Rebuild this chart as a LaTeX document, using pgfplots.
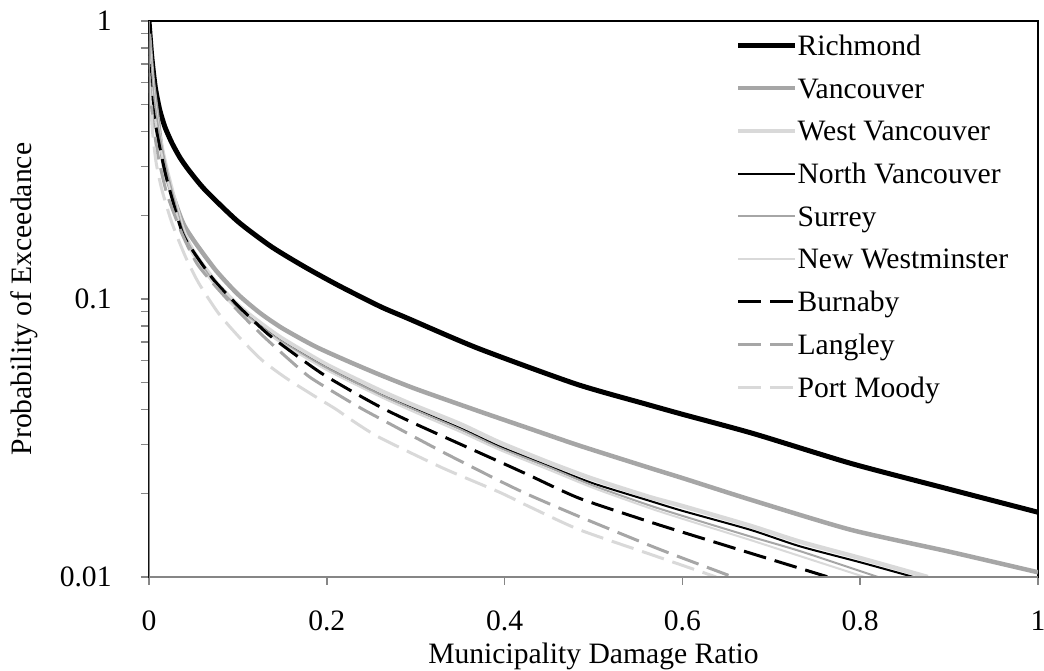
\documentclass[border=0pt]{standalone}
\usepackage{pgfplots}
\pgfplotsset{compat=1.18}
\usepackage{fontspec}
\setmainfont{Liberation Serif}

\definecolor{midgray}{HTML}{A6A6A6}
\definecolor{palegray}{HTML}{D9D9D9}
\definecolor{axisgray}{HTML}{868686}

% Exceedance curves, one table per municipality (x = damage ratio, p = probability)
\pgfplotstableread{
x p
0 1.0
0.003 0.75
0.007 0.58
0.012 0.48
0.018 0.415
0.026 0.363
0.035 0.322
0.045 0.29
0.063 0.247
0.10 0.19
0.138 0.154
0.176 0.130
0.214 0.1115
0.26 0.094
0.29 0.0855
0.37 0.0665
0.48 0.0495
0.56 0.0418
0.60 0.0385
0.68 0.0328
0.79 0.0256
0.90 0.0207
1.0 0.0171
}\richmond

\pgfplotstableread{
x p
0 0.90
0.004 0.62
0.01 0.44
0.018 0.29
0.037 0.192
0.05 0.163
0.075 0.127
0.1 0.104
0.125 0.089
0.15 0.0785
0.187 0.0675
0.225 0.0595
0.259 0.0535
0.3 0.0475
0.371 0.0395
0.428 0.0342
0.484 0.0297
0.563 0.0247
0.6 0.0227
0.676 0.0190
0.789 0.0148
0.902 0.0123
1.0 0.0104
}\vancouver

\pgfplotstableread{
x p
0 0.80
0.004 0.56
0.01 0.41
0.02 0.29
0.037 0.182
0.05 0.148
0.075 0.115
0.1 0.095
0.125 0.082
0.15 0.072
0.2 0.058
0.259 0.047
0.3 0.0412
0.35 0.0355
0.394 0.0305
0.45 0.0258
0.5 0.0225
0.563 0.0194
0.6 0.0180
0.676 0.0153
0.732 0.0134
0.8 0.0117
0.876 0.0100
}\westvan

\pgfplotstableread{
x p
0 0.80
0.004 0.55
0.01 0.40
0.02 0.28
0.037 0.178
0.05 0.145
0.075 0.112
0.1 0.093
0.125 0.080
0.15 0.070
0.2 0.0565
0.259 0.0455
0.3 0.040
0.35 0.0343
0.394 0.0295
0.45 0.0250
0.5 0.0217
0.563 0.0188
0.6 0.0173
0.676 0.0148
0.732 0.0129
0.8 0.0113
0.86 0.0100
}\northvan

\pgfplotstableread{
x p
0 0.85
0.004 0.58
0.01 0.42
0.02 0.29
0.037 0.18
0.05 0.147
0.075 0.113
0.1 0.093
0.125 0.080
0.15 0.070
0.2 0.0565
0.259 0.0455
0.3 0.0398
0.35 0.034
0.394 0.0292
0.45 0.0248
0.5 0.0213
0.563 0.0181
0.6 0.0166
0.676 0.0140
0.732 0.0124
0.82 0.0100
}\surrey

\pgfplotstableread{
x p
0 0.75
0.004 0.52
0.01 0.39
0.02 0.275
0.037 0.175
0.05 0.143
0.075 0.111
0.1 0.091
0.125 0.079
0.15 0.069
0.2 0.0555
0.259 0.0447
0.3 0.039
0.35 0.0333
0.394 0.0287
0.45 0.0243
0.5 0.0209
0.563 0.0177
0.6 0.0162
0.676 0.0136
0.732 0.0119
0.805 0.0100
}\newwest

\pgfplotstableread{
x p
0 0.70
0.004 0.50
0.01 0.38
0.02 0.27
0.037 0.175
0.05 0.148
0.073 0.117
0.101 0.094
0.133 0.0752
0.165 0.0629
0.195 0.0538
0.229 0.0464
0.262 0.0406
0.3 0.0355
0.394 0.026
0.428 0.0232
0.484 0.0192
0.563 0.0158
0.597 0.0146
0.676 0.0122
0.764 0.0100
}\burnaby

\pgfplotstableread{
x p
0 0.65
0.004 0.45
0.01 0.33
0.02 0.24
0.037 0.172
0.054 0.134
0.075 0.111
0.101 0.090
0.127 0.0743
0.154 0.062
0.18 0.0526
0.21 0.0458
0.24 0.0402
0.27 0.0357
0.33 0.0282
0.394 0.0222
0.428 0.0197
0.484 0.0165
0.563 0.0130
0.597 0.0118
0.657 0.0100
}\langley

\pgfplotstableread{
x p
0 0.60
0.004 0.40
0.008 0.31
0.0145 0.247
0.026 0.187
0.041 0.142
0.056 0.114
0.078 0.089
0.101 0.0732
0.127 0.0603
0.154 0.0520
0.184 0.0452
0.21 0.0402
0.229 0.0365
0.259 0.0318
0.33 0.0247
0.394 0.0202
0.428 0.0179
0.484 0.0148
0.563 0.0121
0.597 0.0111
0.638 0.0100
}\portmoody

\begin{document}
\fontsize{14.8}{17.8}\selectfont
\begin{tikzpicture}
\useasboundingbox (-74.5pt,-46.5pt) rectangle (447.5pt,288.5pt);
\begin{axis}[
  scale only axis,
  width=444.5pt, height=278pt,
  xmin=0, xmax=1,
  ymode=log, ymin=0.01, ymax=1,
  xtick={0,0.2,0.4,0.6,0.8,1},
  xticklabels={0,0.2,0.4,0.6,0.8,1},
  ytick={0.01,0.1,1},
  yticklabels={0.01,0.1,1},
  minor ytick={0.02,0.03,0.04,0.05,0.06,0.07,0.08,0.09,0.2,0.3,0.4,0.5,0.6,0.7,0.8,0.9},
  tick pos=left,
  tick align=outside,
  major tick length=4pt,
  minor tick length=4pt,
  tick style={axisgray, line width=0.75pt},
  axis line style={black, line width=0.6pt},
  /pgf/number format/assume math mode=true,
  xticklabel style={anchor=base, inner sep=0pt, yshift=-23pt},
  yticklabel style={anchor=east, inner sep=0pt, xshift=-14.5pt},
  xlabel={Municipality Damage Ratio},
  ylabel={Probability of Exceedance},
  every axis x label/.style={at={([yshift=-43pt]axis description cs:0.5,0)}, anchor=base},
  every axis y label/.style={at={([xshift=-62.5pt]axis description cs:0,0.5)}, anchor=center, rotate=90},
  legend cell align=left,
  legend style={draw=none, fill=none, inner sep=0pt,
    at={([yshift=-5pt,xshift=-2.5pt]axis description cs:0.665,1)}, anchor=north west,
    row sep=7.35pt,
    nodes={inner xsep=0pt, inner ysep=0pt, text height=12pt, text depth=2pt}},
  legend image code/.code={\draw[#1] (0pt,0pt) -- (28.5pt,0pt);},
  every axis plot/.append style={smooth, tension=0.4},
]
\addplot[black, line width=2.5pt] table[x=x,y=p] {\richmond};
\addlegendentry{Richmond}
\addplot[midgray, line width=2.25pt] table[x=x,y=p] {\vancouver};
\addlegendentry{Vancouver}
\addplot[palegray, line width=2.25pt] table[x=x,y=p] {\westvan};
\addlegendentry{West Vancouver}
\addplot[black, line width=1pt] table[x=x,y=p] {\northvan};
\addlegendentry{North Vancouver}
\addplot[midgray, line width=1pt] table[x=x,y=p] {\surrey};
\addlegendentry{Surrey}
\addplot[palegray, line width=1pt] table[x=x,y=p] {\newwest};
\addlegendentry{New Westminster}
\addplot[black, line width=1.5pt, dash pattern=on 11.5pt off 4.5pt] table[x=x,y=p] {\burnaby};
\addlegendentry{Burnaby}
\addplot[midgray, line width=1.5pt, dash pattern=on 11.5pt off 4.5pt] table[x=x,y=p] {\langley};
\addlegendentry{Langley}
\addplot[palegray, line width=1.5pt, dash pattern=on 11.5pt off 4.5pt] table[x=x,y=p] {\portmoody};
\addlegendentry{Port Moody}
% grey value axes over the plot-area border on the left and bottom
\draw[axisgray, line width=0.9pt] (rel axis cs:0,1) -- (rel axis cs:0,0) -- (rel axis cs:1,0);
\end{axis}
\end{tikzpicture}
\end{document}
